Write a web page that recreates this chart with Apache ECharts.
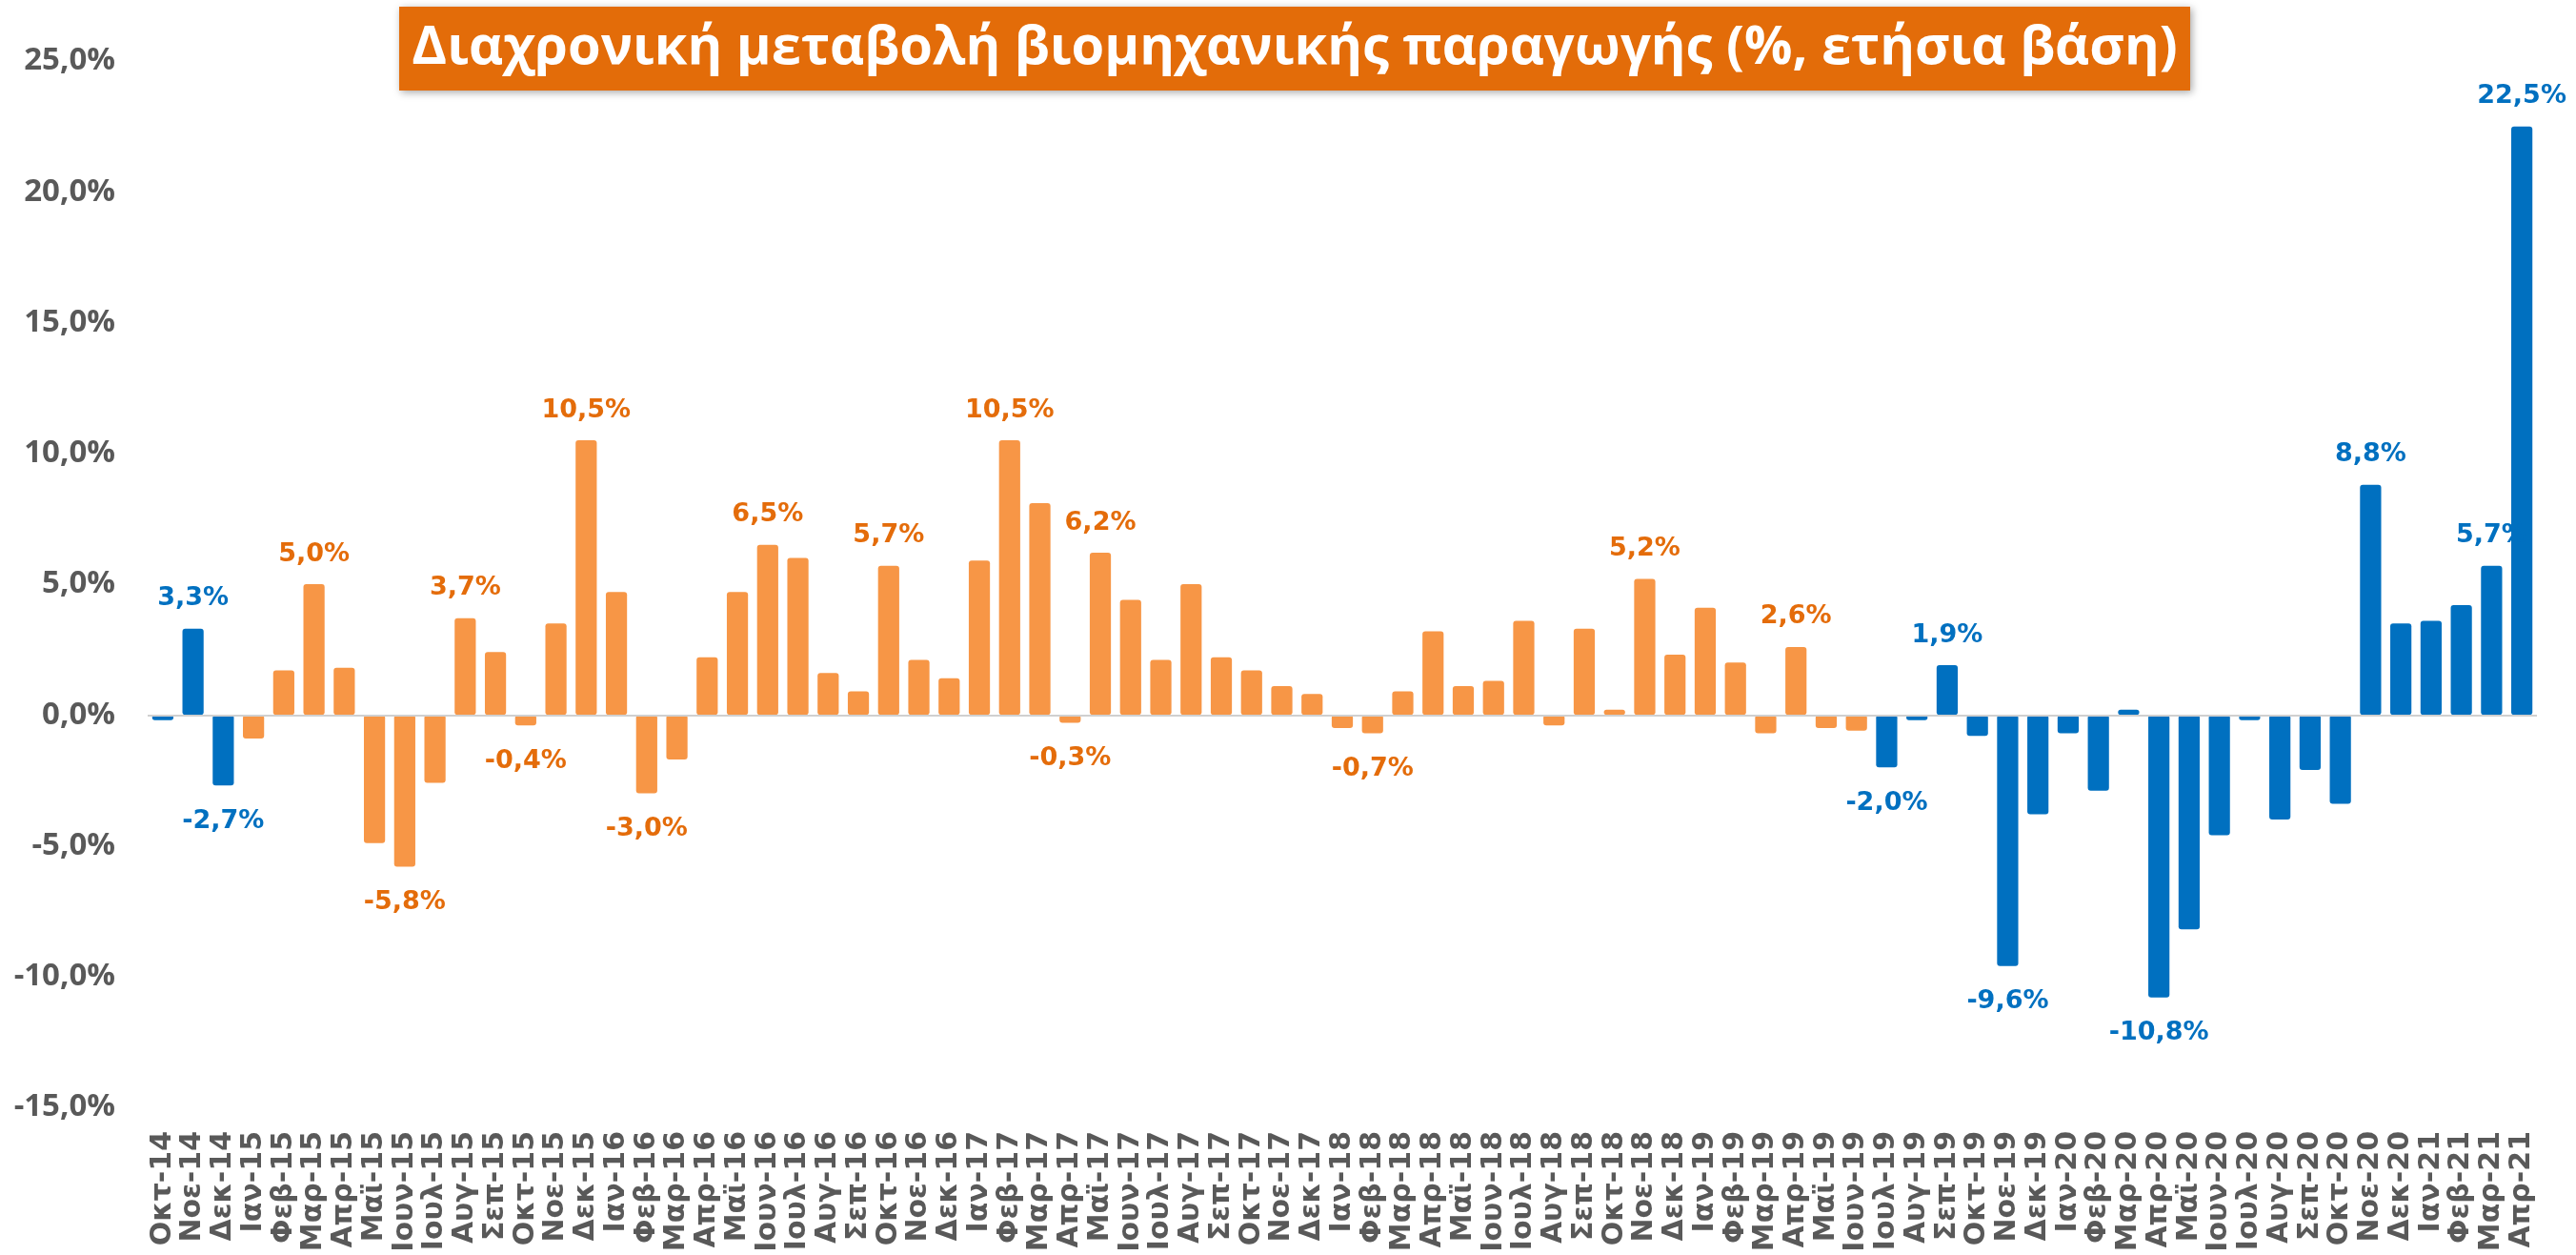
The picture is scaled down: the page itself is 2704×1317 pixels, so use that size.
<!DOCTYPE html>
<html>
<head>
<meta charset="utf-8">
<title>Διαχρονική μεταβολή βιομηχανικής παραγωγής</title>
<script src="https://cdn.jsdelivr.net/npm/echarts@6/dist/echarts.min.js"></script>
<style>
  html, body { margin: 0; padding: 0; background: #fff; }
  #chart { width: 2704px; height: 1317px; }
</style>
</head>
<body>
<div id="chart"></div>
<script>
const title = 'Διαχρονική μεταβολή βιομηχανικής παραγωγής (%, ετήσια βάση)'

const categories = [
  'Οκτ-14', 'Νοε-14', 'Δεκ-14',
  'Ιαν-15', 'Φεβ-15', 'Μαρ-15', 'Απρ-15', 'Μαϊ-15', 'Ιουν-15', 'Ιουλ-15', 'Αυγ-15', 'Σεπ-15', 'Οκτ-15', 'Νοε-15', 'Δεκ-15',
  'Ιαν-16', 'Φεβ-16', 'Μαρ-16', 'Απρ-16', 'Μαϊ-16', 'Ιουν-16', 'Ιουλ-16', 'Αυγ-16', 'Σεπ-16', 'Οκτ-16', 'Νοε-16', 'Δεκ-16',
  'Ιαν-17', 'Φεβ-17', 'Μαρ-17', 'Απρ-17', 'Μαϊ-17', 'Ιουν-17', 'Ιουλ-17', 'Αυγ-17', 'Σεπ-17', 'Οκτ-17', 'Νοε-17', 'Δεκ-17',
  'Ιαν-18', 'Φεβ-18', 'Μαρ-18', 'Απρ-18', 'Μαϊ-18', 'Ιουν-18', 'Ιουλ-18', 'Αυγ-18', 'Σεπ-18', 'Οκτ-18', 'Νοε-18', 'Δεκ-18',
  'Ιαν-19', 'Φεβ-19', 'Μαρ-19', 'Απρ-19', 'Μαϊ-19', 'Ιουν-19', 'Ιουλ-19', 'Αυγ-19', 'Σεπ-19', 'Οκτ-19', 'Νοε-19', 'Δεκ-19',
  'Ιαν-20', 'Φεβ-20', 'Μαρ-20', 'Απρ-20', 'Μαϊ-20', 'Ιουν-20', 'Ιουλ-20', 'Αυγ-20', 'Σεπ-20', 'Οκτ-20', 'Νοε-20', 'Δεκ-20',
  'Ιαν-21', 'Φεβ-21', 'Μαρ-21', 'Απρ-21'
]

// % yoy change
const values = [
  -0.2, 3.3, -2.7,
  -0.9, 1.7, 5.0, 1.8, -4.9, -5.8, -2.6, 3.7, 2.4, -0.4, 3.5, 10.5,
  4.7, -3.0, -1.7, 2.2, 4.7, 6.5, 6.0, 1.6, 0.9, 5.7, 2.1, 1.4,
  5.9, 10.5, 8.1, -0.3, 6.2, 4.4, 2.1, 5.0, 2.2, 1.7, 1.1, 0.8,
  -0.5, -0.7, 0.9, 3.2, 1.1, 1.3, 3.6, -0.4, 3.3, 0.2, 5.2, 2.3,
  4.1, 2.0, -0.7, 2.6, -0.5, -0.6, -2.0, -0.2, 1.9, -0.8, -9.6, -3.8,
  -0.7, -2.9, 0.2, -10.8, -8.2, -4.6, -0.2, -4.0, -2.1, -3.4, 8.8, 3.5,
  3.6, 4.2, 5.7, 22.5
]

// months drawn in orange, the rest are blue
const orangeFrom = 'Ιαν-15'
const orangeTo = 'Ιουν-19'

// bars that carry a value label
const labelled = [
  'Νοε-14', 'Δεκ-14', 'Μαρ-15', 'Ιουν-15', 'Αυγ-15', 'Οκτ-15', 'Δεκ-15', 'Φεβ-16',
  'Ιουν-16', 'Οκτ-16', 'Φεβ-17', 'Απρ-17', 'Μαϊ-17', 'Φεβ-18', 'Νοε-18', 'Απρ-19',
  'Ιουλ-19', 'Σεπ-19', 'Νοε-19', 'Απρ-20', 'Νοε-20', 'Μαρ-21', 'Απρ-21'
]

const yTicks = { min: -15, max: 25, interval: 5 }

const ORANGE = '#F79646'
const ORANGE_TEXT = '#E46C0A'
const BLUE = '#0070C0'
const GREY = '#595959'

const pct = v => v.toFixed(1).replace('.', ',') + '%'

const i0 = categories.indexOf(orangeFrom)
const i1 = categories.indexOf(orangeTo)

const barData = values.map((v, i) => {
  const orange = i >= i0 && i <= i1
  return {
    value: v,
    itemStyle: { color: orange ? ORANGE : BLUE },
    label: {
      show: labelled.indexOf(categories[i]) !== -1,
      color: orange ? ORANGE_TEXT : BLUE,
      distance: v < 0 ? 24 : 18
    }
  }
})

const chart = echarts.init(document.getElementById('chart'))

chart.setOption({
  animation: false,
  backgroundColor: '#fff',
  grid: {
    left: 155,
    right: 41,
    top: 64,
    bottom: 155
  },
  graphic: [{
    type: 'rect',
    shape: { x: 419, y: 7, width: 1880, height: 88 },
    style: {
      fill: '#E36C09',
      shadowBlur: 8,
      shadowColor: 'rgba(0,0,0,0.35)',
      shadowOffsetX: 2,
      shadowOffsetY: 2
    },
    z: 10
  }, {
    type: 'text',
    x: 1359,
    y: 51,
    style: {
      text: title,
      fill: '#fff',
      font: 'bold 56px "Open Sans", sans-serif',
      align: 'center',
      verticalAlign: 'middle'
    },
    z: 11
  }],
  xAxis: {
    type: 'category',
    data: categories,
    axisLine: { show: false, onZero: false },
    axisTick: { show: false },
    axisLabel: {
      interval: 0,
      rotate: 90,
      margin: 25,
      color: GREY,
      fontFamily: 'DejaVu Sans',
      fontWeight: 'bold',
      fontSize: 30
    }
  },
  yAxis: {
    type: 'value',
    min: yTicks.min,
    max: yTicks.max,
    interval: yTicks.interval,
    axisLine: { show: false },
    axisTick: { show: false },
    splitLine: { show: false },
    axisLabel: {
      margin: 34,
      color: GREY,
      fontFamily: 'Open Sans',
      fontWeight: 'bold',
      fontSize: 33,
      formatter: pct
    }
  },
  series: [{
    type: 'bar',
    data: barData,
    barCategoryGap: '30%',
    itemStyle: { borderRadius: 3 },
    label: {
      position: 'outside',
      fontFamily: 'DejaVu Sans',
      fontWeight: 'bold',
      fontSize: 27,
      formatter: p => pct(p.value)
    },
    markLine: {
      silent: true,
      symbol: ['none', 'none'],
      label: { show: false },
      lineStyle: { color: '#D0D0D0', width: 2, type: 'solid' },
      data: [{ yAxis: 0 }]
    }
  }]
})
</script>
</body>
</html>
